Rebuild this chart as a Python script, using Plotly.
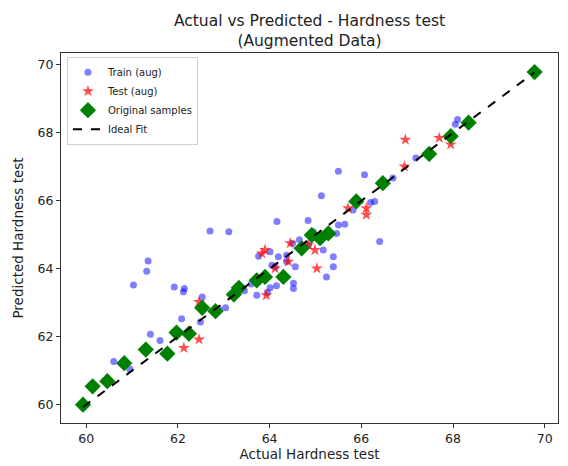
import plotly.graph_objects as go

# Augmented training samples: actual vs predicted hardness
train_actual = [65.50, 66.07, 65.13, 64.16, 64.84, 62.70, 63.11, 61.35, 61.32, 61.03,
                61.92, 62.14, 62.12, 62.08, 61.40, 61.61, 60.60, 62.53, 62.49, 63.04,
                63.72, 64.01, 64.52, 64.52, 64.56, 63.76, 64.01, 64.19, 64.37, 64.12,
                64.37, 65.24, 65.39, 65.39, 65.50, 65.64, 65.46, 64.95, 65.17, 66.40,
                66.29, 65.82, 66.69, 67.19, 68.10, 64.05, 63.95, 64.15, 64.50, 64.65,
                64.85, 63.45, 62.90, 60.95, 62.25, 63.60, 66.20, 68.05]
train_pred = [66.87, 66.77, 66.15, 65.39, 65.42, 65.11, 65.09, 64.23, 63.93, 63.52,
              63.46, 63.42, 63.32, 62.53, 62.07, 61.89, 61.27, 63.17, 62.43, 62.85,
              63.22, 63.44, 63.57, 63.42, 64.06, 64.37, 64.50, 64.35, 64.40, 64.06,
              64.21, 63.76, 64.06, 64.35, 65.29, 65.31, 65.04, 65.09, 64.55, 64.80,
              65.98, 65.73, 66.67, 67.26, 68.39, 64.10, 63.30, 63.50, 64.75, 64.85,
              64.70, 63.35, 62.80, 61.05, 62.15, 63.55, 65.95, 68.25]

# Augmented test samples
test_actual = [66.96, 66.94, 67.70, 67.95, 66.11, 66.11, 65.71, 65.03, 63.90, 63.83,
               64.45, 64.41, 63.93, 62.46, 62.46, 62.13, 64.12, 64.84, 64.99]
test_pred = [67.80, 67.01, 67.85, 67.66, 65.78, 65.59, 65.78, 64.01, 64.55, 64.45,
             64.75, 64.21, 63.22, 63.02, 61.92, 61.67, 64.01, 64.70, 64.55]

# Original (non-augmented) samples
orig_actual = [59.93, 60.14, 60.46, 60.83, 61.30, 61.77, 61.97, 62.24, 62.53, 62.82,
               63.22, 63.33, 63.72, 63.90, 64.30, 64.70, 64.92, 65.10, 65.28, 65.89,
               66.47, 67.48, 67.95, 68.34, 69.78]
orig_pred = [60.00, 60.54, 60.69, 61.22, 61.62, 61.50, 62.12, 62.09, 62.85, 62.75,
             63.24, 63.44, 63.66, 63.76, 63.76, 64.60, 64.99, 64.90, 65.04, 65.98,
             66.52, 67.38, 67.90, 68.30, 69.79]

fit_range = [min(orig_actual), max(orig_actual)]

x_ticks = [60, 62, 64, 66, 68, 70]
y_ticks = [60, 62, 64, 66, 68, 70]

fig = go.Figure()
fig.add_trace(go.Scatter(
    x=train_actual, y=train_pred, mode="markers", name="Train (aug)",
    marker=dict(color="rgba(0,0,255,0.5)", size=7, line=dict(width=0)),
))
fig.add_trace(go.Scatter(
    x=test_actual, y=test_pred, mode="markers", name="Test (aug)",
    marker=dict(color="rgba(255,0,0,0.7)", size=9, symbol="star", line=dict(width=0)),
))
fig.add_trace(go.Scatter(
    x=orig_actual, y=orig_pred, mode="markers", name="Original samples",
    marker=dict(color="#008000", size=12.5, symbol="diamond", line=dict(width=0)),
))
fig.add_trace(go.Scatter(
    x=fit_range, y=fit_range, mode="lines", name="Ideal Fit",
    line=dict(color="black", width=2, dash="dash"),
))

axis_common = dict(
    showgrid=False, zeroline=False, showline=True, linecolor="#333333",
    linewidth=1, mirror=True, ticks="outside", ticklen=4, tickcolor="#333333",
    tickfont=dict(size=12.5, color="#222222"),
)

fig.update_layout(
    width=568, height=466,
    margin=dict(l=61, r=10, t=53, b=43),
    paper_bgcolor="white", plot_bgcolor="white",
    font=dict(family="DejaVu Sans", color="#222222"),
    title=dict(
        text="Actual vs Predicted - Hardness test<br>(Augmented Data)",
        x=0.5, xref="paper", xanchor="center",
        y=0.944, yref="container", yanchor="top",
        font=dict(size=15.5),
    ),
    xaxis=dict(range=[59.45, 70.29], tickvals=x_ticks,
               title=dict(text="Actual Hardness test", font=dict(size=13.5), standoff=2),
               **axis_common),
    yaxis=dict(range=[59.46, 70.35], tickvals=y_ticks,
               title=dict(text="Predicted Hardness test", font=dict(size=13.5), standoff=10),
               **axis_common),
    legend=dict(
        x=0.012, y=0.99, xanchor="left", yanchor="top",
        bgcolor="white", bordercolor="#d0d0d0", borderwidth=1,
        font=dict(size=10), itemsizing="trace", tracegroupgap=0,
        itemwidth=30,
    ),
    showlegend=True,
)

fig.write_html("out.html")
